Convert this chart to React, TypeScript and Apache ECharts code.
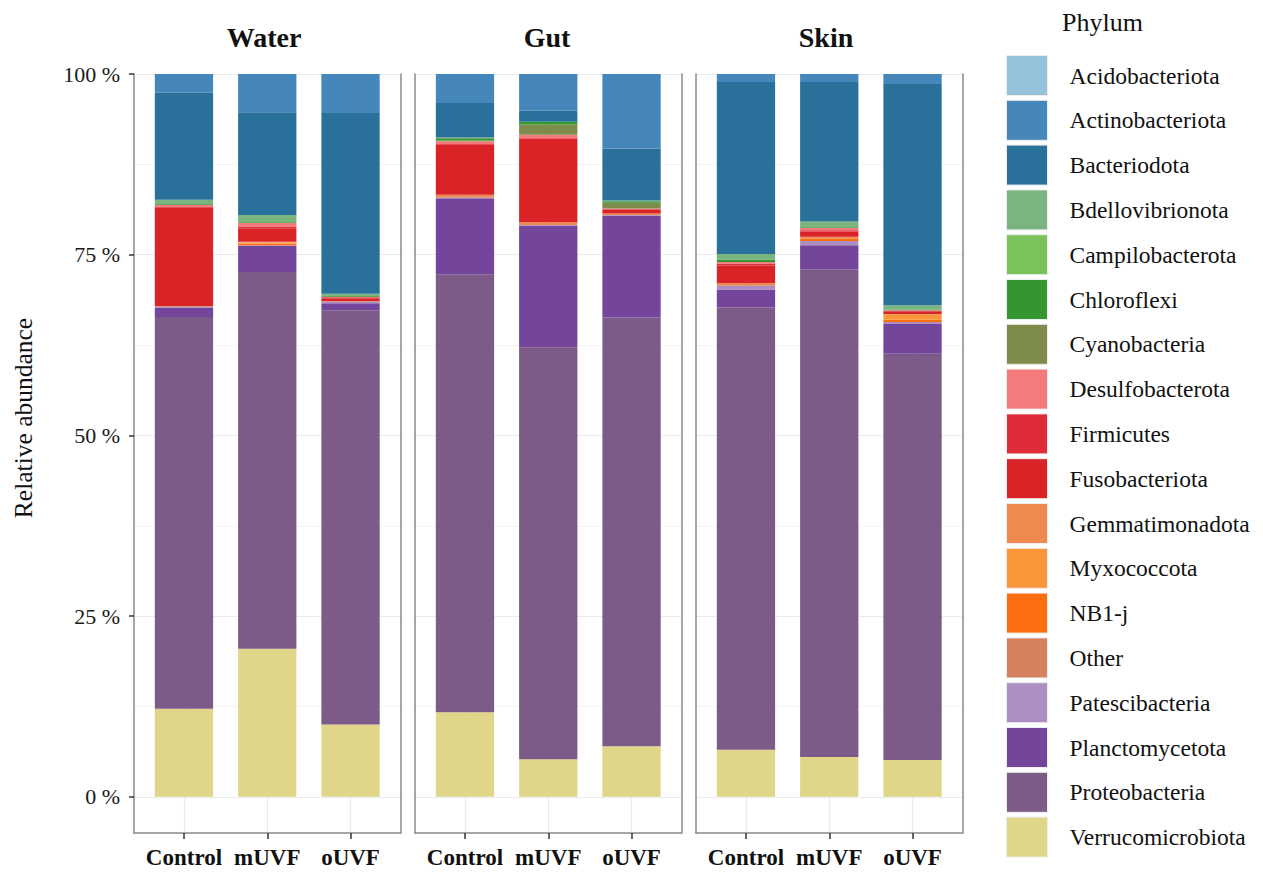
import React, { useEffect, useRef } from "react";
import * as echarts from "echarts";

const sites = ["Water", "Gut", "Skin"];
const groups = ["Control", "mUVF", "oUVF"];
const yTicks = [0, 25, 50, 75, 100];
const yMinorTicks = [12.5, 37.5, 62.5, 87.5];

// legend order (top to bottom)
const phyla = [
  "Acidobacteriota",
  "Actinobacteriota",
  "Bacteriodota",
  "Bdellovibrionota",
  "Campilobacterota",
  "Chloroflexi",
  "Cyanobacteria",
  "Desulfobacterota",
  "Firmicutes",
  "Fusobacteriota",
  "Gemmatimonadota",
  "Myxococcota",
  "NB1-j",
  "Other",
  "Patescibacteria",
  "Planctomycetota",
  "Proteobacteria",
  "Verrucomicrobiota",
];

const phylumColors = [
  "#96c3dc",
  "#4586bb",
  "#29709a",
  "#7ab47e",
  "#7ac25a",
  "#33962f",
  "#7d8b4b",
  "#f47b7b",
  "#e02b38",
  "#d92326",
  "#ee8a50",
  "#fa963a",
  "#fb6d0f",
  "#d5815d",
  "#ad8ec2",
  "#74469b",
  "#7d5b88",
  "#e0d68a",
];

// values in %: Water(Control, mUVF, oUVF), Gut(...), Skin(...)
const acidobacteriota = [0, 0, 0, 0, 0, 0, 0, 0, 0];
const actinobacteriota = [2.6, 5.3, 5.4, 4.0, 5.1, 10.3, 1.1, 1.1, 1.4];
const bacteriodota = [14.8, 14.2, 25.0, 4.8, 1.5, 7.2, 23.8, 19.3, 30.6];
const bdellovibrionota = [0.6, 1.0, 0.3, 0.1, 0, 0.1, 0.8, 0.8, 0.6];
const campilobacterota = [0, 0, 0, 0, 0, 0, 0, 0, 0];
const chloroflexi = [0.1, 0.1, 0.1, 0.3, 0.4, 0.2, 0.3, 0.1, 0.1];
const cyanobacteria = [0, 0, 0, 0.1, 1.4, 0.8, 0, 0, 0];
const desulfobacterota = [0.3, 0.5, 0.1, 0.4, 0.5, 0.1, 0.2, 0.3, 0.1];
const firmicutes = [0.1, 0.3, 0.2, 0.1, 0.1, 0.1, 0.3, 0.2, 0.1];
const fusobacteriota = [13.6, 1.8, 0.3, 6.9, 11.5, 0.5, 2.4, 0.7, 0.3];
const gemmatimonadota = [0, 0.1, 0, 0.3, 0.4, 0.2, 0.3, 0.3, 0.1];
const myxococcota = [0, 0.2, 0, 0, 0, 0, 0, 0, 0.7];
const nb1j = [0, 0.2, 0, 0, 0, 0, 0, 0.3, 0.3];
const other = [0.1, 0, 0.1, 0.1, 0, 0, 0.1, 0, 0];
const patescibacteria = [0.1, 0.1, 0.2, 0.1, 0.1, 0.1, 0.5, 0.6, 0.3];
const planctomycetota = [1.3, 3.6, 1.0, 10.5, 16.8, 14.1, 2.5, 3.3, 4.1];
const proteobacteria = [54.2, 52.1, 57.3, 60.6, 57.0, 59.3, 61.2, 67.5, 56.2];
const verrucomicrobiota = [12.2, 20.5, 10.0, 11.7, 5.2, 7.0, 6.5, 5.5, 5.1];

const phylumValues: Record<string, number[]> = {
  Acidobacteriota: acidobacteriota,
  Actinobacteriota: actinobacteriota,
  Bacteriodota: bacteriodota,
  Bdellovibrionota: bdellovibrionota,
  Campilobacterota: campilobacterota,
  Chloroflexi: chloroflexi,
  Cyanobacteria: cyanobacteria,
  Desulfobacterota: desulfobacterota,
  Firmicutes: firmicutes,
  Fusobacteriota: fusobacteriota,
  Gemmatimonadota: gemmatimonadota,
  Myxococcota: myxococcota,
  "NB1-j": nb1j,
  Other: other,
  Patescibacteria: patescibacteria,
  Planctomycetota: planctomycetota,
  Proteobacteria: proteobacteria,
  Verrucomicrobiota: verrucomicrobiota,
};

const SERIF = '"Liberation Serif", "Times New Roman", serif';
const FRAME = "#8a8a8a";
const GRID_LINE = "#ebebeb";

export default function App() {
  const ref = useRef<HTMLDivElement>(null);

  useEffect(() => {
    document.body.style.margin = "0";
    if (!ref.current) return;
    const chart = echarts.init(ref.current, null, { renderer: "svg" });

    const gridLefts = [134, 415, 696];
    const panelWidth = 266.5;
    const expand = 0.6; // ggplot discrete expansion, in category units
    const bandW = panelWidth / (groups.length - 1 + 2 * expand);
    const titleX = [264, 547, 826];
    const top = 74;
    const height = 759;

    const grids: any[] = [];
    const xAxes: any[] = [];
    const yAxes: any[] = [];

    sites.forEach((_, s) => {
      // frame grid (full panel)
      grids.push({ left: gridLefts[s], top, width: panelWidth, height });
      // bar grid (category bands)
      grids.push({
        left: gridLefts[s] + bandW * (expand - 0.5),
        top,
        width: bandW * groups.length,
        height,
      });

      xAxes.push({
        type: "value",
        gridIndex: 2 * s,
        min: 1 - expand,
        max: groups.length + expand,
        position: "bottom",
        axisLine: { show: true, onZero: false, lineStyle: { color: FRAME, width: 1.5 } },
        axisTick: {
          show: true,
          customValues: groups.map((_, i) => i + 1),
          length: 6,
          lineStyle: { color: "#333", width: 1.5 },
        },
        axisLabel: {
          show: true,
          customValues: groups.map((_, i) => i + 1),
          formatter: (v: number) => groups[Math.round(v) - 1] ?? "",
          fontFamily: SERIF,
          fontWeight: "bold",
          fontSize: 23,
          color: "#111",
          margin: 13,
        },
        splitLine: { show: true, lineStyle: { color: GRID_LINE, width: 1.2 } },
      });
      xAxes.push({
        type: "category",
        gridIndex: 2 * s + 1,
        data: groups,
        boundaryGap: true,
        show: false,
      });

      yAxes.push({
        type: "value",
        gridIndex: 2 * s,
        min: -5,
        max: 100,
        position: "left",
        axisLine: { show: true, onZero: false, lineStyle: { color: FRAME, width: 1.5 } },
        axisTick: {
          show: s === 0,
          customValues: yTicks,
          length: 5,
          lineStyle: { color: "#333", width: 1.5 },
        },
        axisLabel: {
          show: s === 0,
          customValues: yTicks,
          formatter: (v: number) => `${v} %`,
          fontFamily: SERIF,
          fontSize: 22,
          color: "#1a1a1a",
          margin: 14,
        },
        splitLine: { show: true, lineStyle: { color: GRID_LINE, width: 1.2 } },
      });
      yAxes.push({
        type: "value",
        gridIndex: 2 * s,
        min: -5,
        max: 100,
        position: "right",
        axisLine: { show: true, onZero: false, lineStyle: { color: FRAME, width: 1.5 } },
        axisTick: { show: false, customValues: yMinorTicks },
        axisLabel: { show: false },
        splitLine: { show: true, lineStyle: { color: "#f1f1f1", width: 0.8 } },
      });
      yAxes.push({
        type: "value",
        gridIndex: 2 * s + 1,
        min: -5,
        max: 100,
        show: false,
        splitLine: { show: false },
      });
    });

    const stackOrder = [...phyla].reverse();
    const series: any[] = [];
    sites.forEach((_, s) => {
      stackOrder.forEach((p) => {
        const vals = phylumValues[p];
        series.push({
          type: "bar",
          name: p,
          xAxisIndex: 2 * s + 1,
          yAxisIndex: 3 * s + 2,
          stack: "site" + s,
          barWidth: "70%",
          data: groups.map((_, i) => vals[s * 3 + i]),
          itemStyle: { color: phylumColors[phyla.indexOf(p)] },
          emphasis: { disabled: true },
        });
      });
    });

    const option: any = {
      animation: false,
      backgroundColor: "#ffffff",
      grid: grids,
      xAxis: xAxes,
      yAxis: yAxes,
      series,
      legend: {
        data: phyla,
        orient: "vertical",
        left: 1006,
        top: 55,
        padding: 0,
        itemWidth: 41,
        itemHeight: 40,
        itemGap: 3.8,
        icon: "rect",
        selectedMode: false,
        itemStyle: { borderColor: "#eeeeee", borderWidth: 1 },
        textStyle: {
          fontFamily: SERIF,
          fontSize: 23.5,
          color: "#111",
          padding: [0, 0, 0, 17],
        },
      },
      graphic: [
        ...sites.map((name, s) => ({
          type: "text",
          x: titleX[s],
          y: 37,
          style: {
            text: name,
            font: `bold 28px ${SERIF}`,
            fill: "#111",
            textAlign: "center",
            textVerticalAlign: "middle",
          },
        })),
        {
          type: "text",
          x: 1062,
          y: 22,
          style: {
            text: "Phylum",
            font: `26px ${SERIF}`,
            fill: "#111",
            textAlign: "left",
            textVerticalAlign: "middle",
          },
        },
        {
          type: "text",
          x: 23,
          y: 418,
          rotation: Math.PI / 2,
          style: {
            text: "Relative abundance",
            font: `25.5px ${SERIF}`,
            fill: "#111",
            textAlign: "center",
            textVerticalAlign: "middle",
          },
        },
      ],
    };

    chart.setOption(option);
    return () => {
      chart.dispose();
    };
  }, []);

  return <div ref={ref} style={{ width: 1263, height: 878 }} />;
}
